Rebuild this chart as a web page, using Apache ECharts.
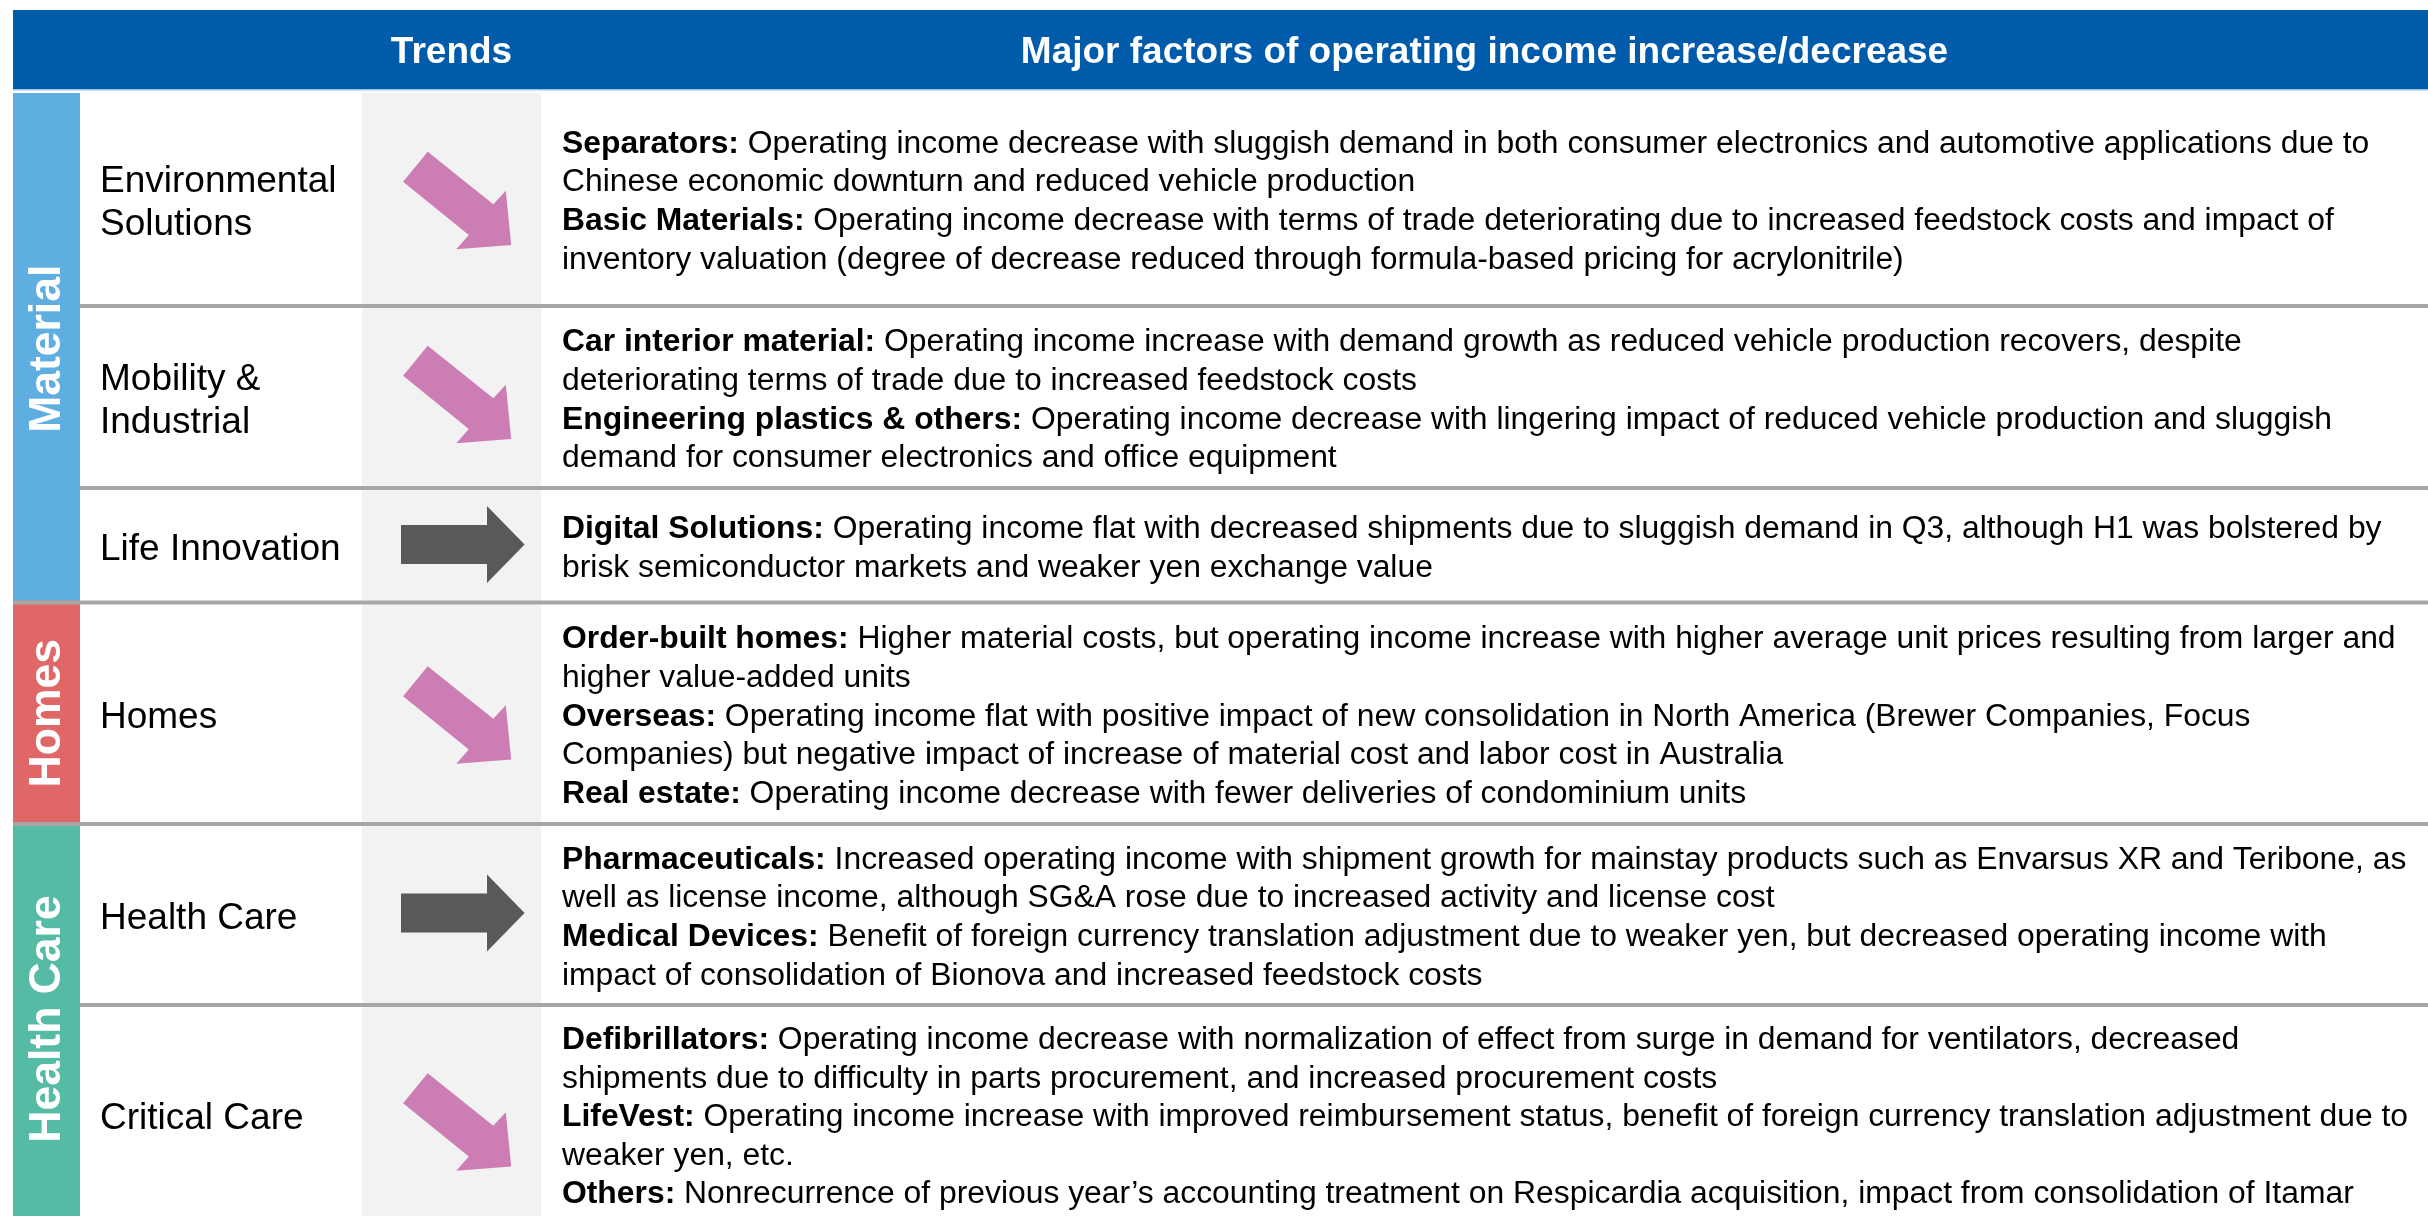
<!DOCTYPE html>
<html>
<head>
<meta charset="utf-8">
<script src="https://cdn.jsdelivr.net/npm/echarts@6/dist/echarts.min.js"></script>
<style>
html,body{margin:0;padding:0;background:#fff;}
#chart{width:2428px;height:1216px;}
</style>
</head>
<body>
<div id="chart"></div>
<script>
// ---------------- data ----------------
const headers = ['Trends', 'Major factors of operating income increase/decrease'];
const groups = ['Material', 'Homes', 'Health Care'];
const segments = ['Environmental\nSolutions', 'Mobility &\nIndustrial', 'Life Innovation', 'Homes', 'Health Care', 'Critical Care'];
const segmentGroup = [0, 0, 0, 1, 2, 2];
const trends = ['down', 'down', 'flat', 'down', 'flat', 'down'];
const factors = [
  [
    ['Separators:', ' Operating income decrease with sluggish demand in both consumer electronics and automotive applications due to'],
    ['', 'Chinese economic downturn and reduced vehicle production'],
    ['Basic Materials:', ' Operating income decrease with terms of trade deteriorating due to increased feedstock costs and impact of'],
    ['', 'inventory valuation (degree of decrease reduced through formula-based pricing for acrylonitrile)']
  ],
  [
    ['Car interior material:', ' Operating income increase with demand growth as reduced vehicle production recovers, despite'],
    ['', 'deteriorating terms of trade due to increased feedstock costs'],
    ['Engineering plastics & others:', ' Operating income decrease with lingering impact of reduced vehicle production and sluggish'],
    ['', 'demand for consumer electronics and office equipment']
  ],
  [
    ['Digital Solutions:', ' Operating income flat with decreased shipments due to sluggish demand in Q3, although H1 was bolstered by'],
    ['', 'brisk semiconductor markets and weaker yen exchange value']
  ],
  [
    ['Order-built homes:', ' Higher material costs, but operating income increase with higher average unit prices resulting from larger and'],
    ['', 'higher value-added units'],
    ['Overseas:', ' Operating income flat with positive impact of new consolidation in North America (Brewer Companies, Focus'],
    ['', 'Companies) but negative impact of increase of material cost and labor cost in Australia'],
    ['Real estate:', ' Operating income decrease with fewer deliveries of condominium units']
  ],
  [
    ['Pharmaceuticals:', ' Increased operating income with shipment growth for mainstay products such as Envarsus XR and Teribone, as'],
    ['', 'well as license income, although SG&A rose due to increased activity and license cost'],
    ['Medical Devices:', ' Benefit of foreign currency translation adjustment due to weaker yen, but decreased operating income with'],
    ['', 'impact of consolidation of Bionova and increased feedstock costs']
  ],
  [
    ['Defibrillators:', ' Operating income decrease with normalization of effect from surge in demand for ventilators, decreased'],
    ['', 'shipments due to difficulty in parts procurement, and increased procurement costs'],
    ['LifeVest:', ' Operating income increase with improved reimbursement status, benefit of foreign currency translation adjustment due to'],
    ['', 'weaker yen, etc.'],
    ['Others:', ' Nonrecurrence of previous year\u2019s accounting treatment on Respicardia acquisition, impact from consolidation of Itamar']
  ]
];

// ---------------- layout / style ----------------
const FONT = "'Liberation Sans', Arial, Helvetica, sans-serif";
const W = 2428, H = 1216;
const BAND_X0 = 13, BAND_X1 = 80, LABEL_X = 100, TREND_X0 = 362, TREND_X1 = 541, TEXT_X = 562;
const HEADER_Y0 = 10, HEADER_Y1 = 89, BODY_Y0 = 93;
const ROW_TOP = [93, 308, 490, 604.5, 826, 1007];
const ROW_BOT = [304, 486, 600.5, 822, 1003, 1221];
const SEP_Y = [306, 488, 602.5, 824, 1005];
const ARROW_Y = [200.5, 394.5, 544.5, 715, 913, 1122];
const ARROW_X = { down: 457.2, flat: 462.8 };
const GROUP_COLORS = ['#5EAEE1', '#E06767', '#55BBA5'];
const BODY_SIZE = 31.85, BODY_LH = 38.6, BODY_DY = 3.5;
const LABEL_SIZE = 37, LABEL_LH = 43, LABEL_DY = 4.5;
const HEAD_SIZE = 37, HEAD_DY = 3.5, BAND_SIZE = 44.5;
const DOWN_SHAPE = [[-29.5, -48.8], [36.1, 3.8], [48.6, -9.8], [54, 44.5], [-0.9, 48.8], [11.6, 34.5], [-54.1, -18.8]];
const FLAT_SHAPE = [[-61.8, -19.5], [24.2, -19.5], [24.2, -38.5], [61.8, 0], [24.2, 38.5], [24.2, 19.5], [-61.8, 19.5]];

function groupRange(g) {
  const rows = segmentGroup.map((v, i) => v === g ? i : -1).filter(i => i >= 0);
  const top = rows[0] === 0 ? BODY_Y0 : SEP_Y[rows[0] - 1] - 2;
  const last = rows[rows.length - 1];
  const bot = last === segments.length - 1 ? H : SEP_Y[last] + 2;
  return [top, bot];
}

const chart = echarts.init(document.getElementById('chart'), null, { renderer: 'canvas' });

function pt(api, x, y) { return api.coord([x, y]); }

const option = {
  animation: false,
  backgroundColor: '#ffffff',
  grid: { left: 0, right: 0, top: 0, bottom: 0 },
  xAxis: { type: 'value', min: 0, max: W, show: false },
  yAxis: { type: 'value', min: 0, max: H, inverse: true, show: false },
  graphic: [
    { type: 'rect', shape: { x: BAND_X0, y: HEADER_Y0, width: W - BAND_X0, height: HEADER_Y1 - HEADER_Y0 }, style: { fill: '#005BAA' }, z: 10 },
    { type: 'rect', shape: { x: BAND_X0, y: HEADER_Y1, width: W - BAND_X0, height: 1.5 }, style: { fill: '#9DC3E6' }, z: 10 },
    { type: 'text', x: (TREND_X0 + TREND_X1) / 2, y: (HEADER_Y0 + HEADER_Y1) / 2 + HEAD_DY, z: 11,
      style: { text: headers[0], fill: '#fff', font: 'bold ' + HEAD_SIZE + 'px ' + FONT, align: 'center', verticalAlign: 'middle' } },
    { type: 'text', x: (TREND_X1 + W) / 2, y: (HEADER_Y0 + HEADER_Y1) / 2 + HEAD_DY, z: 11,
      style: { text: headers[1], fill: '#fff', font: 'bold ' + HEAD_SIZE + 'px ' + FONT, align: 'center', verticalAlign: 'middle' } }
  ],
  series: [
    {
      // trend column background + group bands
      type: 'custom',
      coordinateSystem: 'cartesian2d',
      silent: true,
      z: 1,
      data: groups.map((g, i) => [i]),
      renderItem: function (params, api) {
        const g = api.value(0);
        const [top, bot] = groupRange(g);
        const p0 = pt(api, BAND_X0, top), p1 = pt(api, BAND_X1, bot);
        const children = [];
        if (g === 0) {
          const c0 = pt(api, TREND_X0, BODY_Y0), c1 = pt(api, TREND_X1, H);
          children.push({ type: 'rect', shape: { x: c0[0], y: c0[1], width: c1[0] - c0[0], height: c1[1] - c0[1] }, style: { fill: '#F2F2F2' } });
        }
        children.push({ type: 'rect', shape: { x: p0[0], y: p0[1], width: p1[0] - p0[0], height: p1[1] - p0[1] }, style: { fill: GROUP_COLORS[g] } });
        children.push({
          type: 'text', x: (p0[0] + p1[0]) / 2 + 1, y: (p0[1] + p1[1]) / 2, rotation: Math.PI / 2,
          style: { text: groups[g], fill: '#fff', font: 'bold ' + BAND_SIZE + 'px ' + FONT, align: 'center', verticalAlign: 'middle' }
        });
        return { type: 'group', children: children };
      }
    },
    {
      // rows
      type: 'custom',
      coordinateSystem: 'cartesian2d',
      silent: true,
      z: 2,
      data: segments.map((s, i) => [i]),
      renderItem: function (params, api) {
        const i = api.value(0);
        const cy = (ROW_TOP[i] + ROW_BOT[i]) / 2;
        const children = [];
        if (i < segments.length - 1) {
          const newGroup = segmentGroup[i + 1] !== segmentGroup[i];
          const a = pt(api, newGroup ? BAND_X0 : BAND_X1, SEP_Y[i]), b = pt(api, W, SEP_Y[i]);
          children.push({ type: 'line', shape: { x1: a[0], y1: a[1], x2: b[0], y2: b[1] }, style: { stroke: '#A6A6A6', lineWidth: 4 }, z2: 5 });
        }
        const lp = pt(api, LABEL_X, cy + LABEL_DY);
        children.push({ type: 'text', x: lp[0], y: lp[1], style: {
          text: segments[i], fill: '#000', font: LABEL_SIZE + 'px ' + FONT, lineHeight: LABEL_LH, align: 'left', verticalAlign: 'middle' } });
        const shape = trends[i] === 'down' ? DOWN_SHAPE : FLAT_SHAPE;
        const ax = ARROW_X[trends[i]], ay = ARROW_Y[i];
        children.push({ type: 'polygon', shape: { points: shape.map(p => pt(api, ax + p[0], ay + p[1])) },
          style: { fill: trends[i] === 'down' ? '#CC7DB4' : '#595959' }, z2: 6 });
        const text = factors[i].map(l => (l[0] ? '{b|' + l[0] + '}' : '') + l[1]).join('\n');
        const tp = pt(api, TEXT_X, cy + BODY_DY);
        children.push({ type: 'text', x: tp[0], y: tp[1], style: {
          text: text, fill: '#000', font: BODY_SIZE + 'px ' + FONT, lineHeight: BODY_LH, align: 'left', verticalAlign: 'middle',
          rich: { b: { fontWeight: 'bold', fontSize: BODY_SIZE, fontFamily: FONT, lineHeight: BODY_LH, fill: '#000' } } } });
        return { type: 'group', children: children };
      }
    }
  ]
};
chart.setOption(option);
</script>
</body>
</html>
